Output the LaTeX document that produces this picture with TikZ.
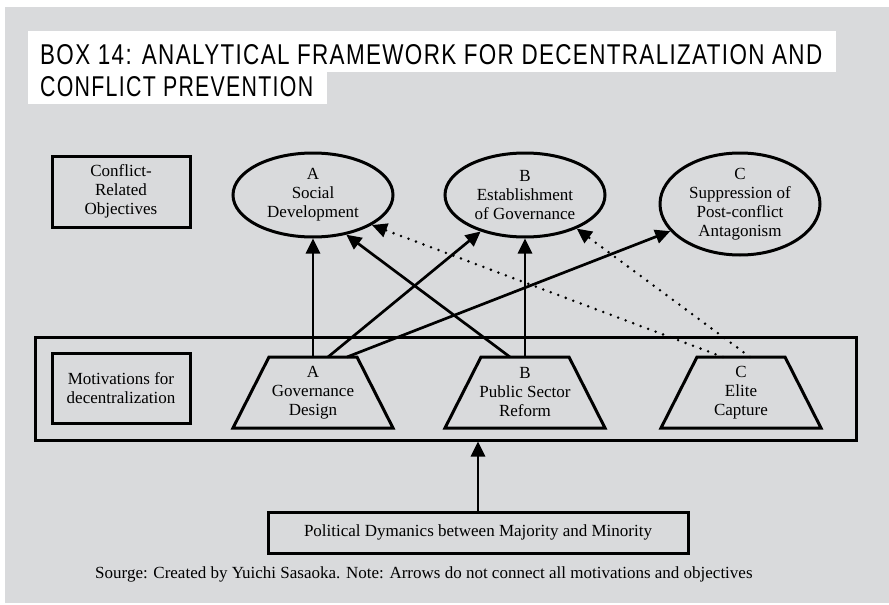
\documentclass[tikz,border=0pt]{standalone}
\usepackage{fontspec}
\setmainfont{Liberation Serif}
\newfontfamily\titlefont[LetterSpace=6]{Liberation Sans}
\usetikzlibrary{arrows.meta,calc,shapes.geometric}
\definecolor{bggrey}{RGB}{217,218,220}
\begin{document}
\begin{tikzpicture}[x=1pt,y=-1pt,
  every node/.style={font=\fontsize{17}{19}\selectfont, align=center, inner sep=0pt},
  box/.style={draw, line width=3pt},
  oval/.style={ellipse, draw, line width=3pt, minimum width=160pt, minimum height=84pt},
  trapnode/.style={minimum width=10pt, minimum height=71pt},
  trapline/.style={line width=3pt, line join=miter},
  arr/.style={line width=2.7pt, -{Triangle[length=15pt,width=14pt]}},
  dotarr/.style={line width=2.8pt, dash pattern=on 0pt off 8pt, line cap=round, -{Triangle[length=15pt,width=14pt]}},
]
\useasboundingbox (0,0) rectangle (889,605);
\fill[bggrey] (5,7) rectangle (889,603);
\fill[white] (28,31) rectangle (836,72);
\fill[white] (28,72) rectangle (327,104);
\node[anchor=base west] (t1) at (40,64) {\resizebox{782pt}{20pt}{\titlefont BOX 14: ANALYTICAL FRAMEWORK FOR DECENTRALIZATION AND}};
\node[anchor=base west] (t2) at (40,96) {\resizebox{273pt}{20pt}{\titlefont CONFLICT PREVENTION}};

\node[box, minimum width=138pt, minimum height=71pt] (cro) at (121,191.5) {Conflict-\\Related\\Objectives};
\node[oval] (oA) at (313,195) {A\\Social\\Development};
\node[oval] (oB) at (525,195) {B\\Establishment\\of Governance};
\node[oval, minimum height=102pt] (oC) at (740,204) {C\\Suppression of\\Post-conflict\\Antagonism};

\node[box, minimum width=821pt, minimum height=103pt] (mot) at (445.5,388.5) {};
\node[box, minimum width=138pt, minimum height=70pt] (mfd) at (121,388) {Motivations for\\decentralization};
\node[trapnode] (tA) at (313,392.5) {A\\Governance\\Design};
\node[trapnode] (tB) at (525,392.5) {B\\Public Sector\\Reform};
\node[trapnode] (tC) at (741,392.5) {C\\Elite\\Capture};
\foreach \t in {tA,tB,tC}{
  \draw[trapline] ($(\t)+(-44,-35.5)$) -- ($(\t)+(44,-35.5)$) -- ($(\t)+(80,35.5)$) -- ($(\t)+(-80,35.5)$) -- cycle;
  \coordinate (\t n) at ($(\t)+(0,-35.5)$);
}

\draw[arr] (tAn) -- (oA.south);
\draw[arr] ($(tAn)+(15,0)$) -- (oB);
\draw[arr] ($(tAn)+(34,0)$) -- (oC);
\draw[arr] ($(tBn)+(-15,0)$) -- (oA.-50);
\draw[arr] (tBn) -- (oB.south);
\draw[dotarr] ($(tCn)+(-18,0)$) -- (oA.-27);
\draw[dotarr] ($(tCn)+(9,0)$) -- (oB.-33);

\node[box, minimum width=420pt, minimum height=41pt] (pol) at (478,532.5) {Political Dymanics between Majority and Minority};
\draw[arr] (pol.north) -- (pol.north |- mot.south);

\node[anchor=base west] (src) at (95,578) {Sourge: Created by Yuichi Sasaoka. Note: Arrows do not connect all motivations and objectives};
\end{tikzpicture}
\end{document}
